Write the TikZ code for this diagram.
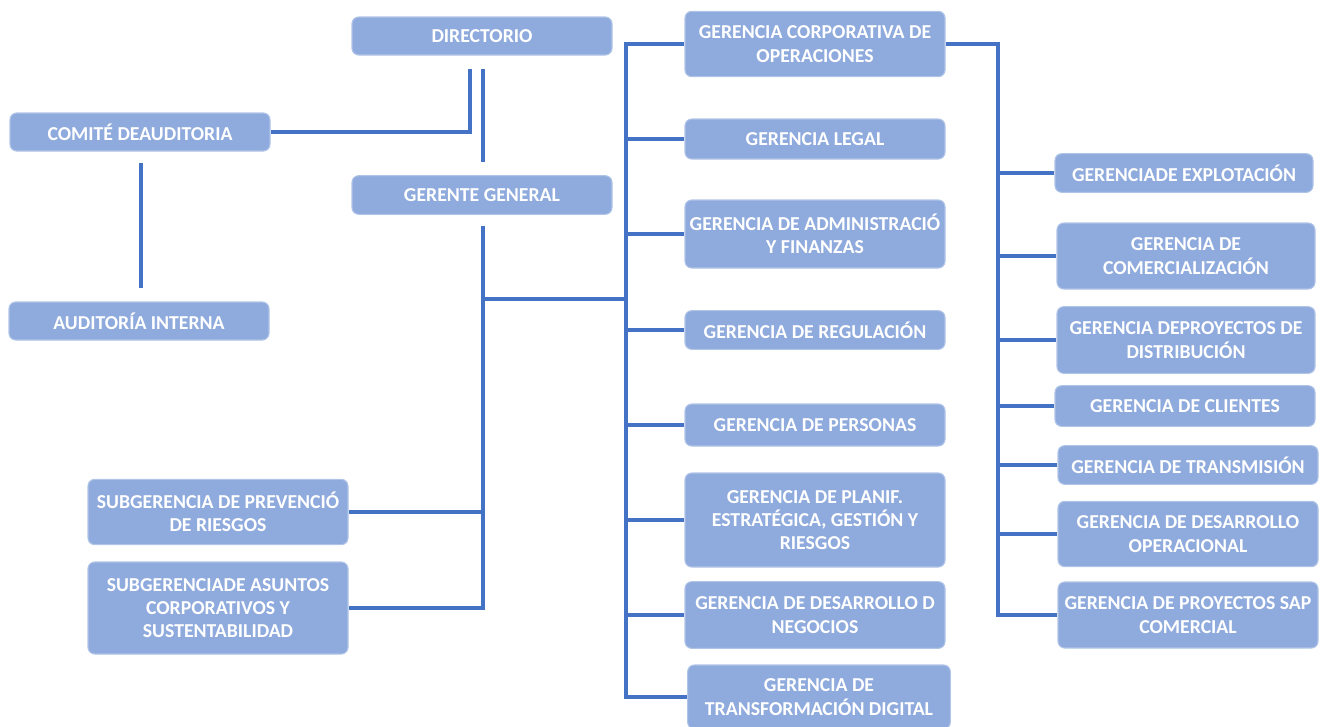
\documentclass[tikz,border=0pt]{standalone}
\usepackage{fontspec}
\setmainfont{Carlito}
\usetikzlibrary{positioning,calc}

\definecolor{boxblue}{RGB}{143,170,220}
\definecolor{boxrim}{RGB}{176,196,232}
\definecolor{linkblue}{RGB}{68,114,196}

\begin{document}
\begin{tikzpicture}[
  x=0.75pt, y=-0.75pt,
  unit/.style={rectangle, draw=boxrim, line width=0.8pt, rounded corners=5pt, fill=boxblue,
               text=white, font=\fontsize{14.8pt}{17.4pt}\selectfont\bfseries,
               align=center, inner sep=2pt, minimum width=195pt},
  link/.style={draw=linkblue, line width=2.3pt}
]
\useasboundingbox (0,0) rectangle (1328,726);

% mando superior
\node[unit, minimum height=28.5pt] (dir) at (482,36) {DIRECTORIO};
\node[unit, minimum height=29pt] (gg) at (482,195) {GERENTE GENERAL};
\node[unit, minimum height=28.5pt] (comite) at (140,132) {COMITÉ DEAUDITORIA};
\node[unit, minimum height=28.5pt] (audit) at (139,321) {AUDITORÍA INTERNA};
\node[unit, minimum height=49pt] (subprev) at (218,512) {SUBGERENCIA DE PREVENCIÓ\\DE RIESGOS};
\node[unit, minimum height=69pt] (subasun) at (218,608) {SUBGERENCIADE ASUNTOS\\CORPORATIVOS Y\\SUSTENTABILIDAD};

% gerencias
\node[unit, minimum height=49pt] (gco) at (815,44) {GERENCIA CORPORATIVA DE\\OPERACIONES};
\node[unit, minimum height=30pt] (legal) at (815,139) {GERENCIA LEGAL};
\node[unit, minimum height=51pt] (adm) at (815,234) {GERENCIA DE ADMINISTRACIÓ\\Y FINANZAS};
\node[unit, minimum height=29pt] (reg) at (815,330) {GERENCIA DE REGULACIÓN};
\node[unit, minimum height=31.5pt] (pers) at (815,425) {GERENCIA DE PERSONAS};
\node[unit, minimum height=70.5pt] (plan) at (815,520) {GERENCIA DE PLANIF.\\ESTRATÉGICA, GESTIÓN Y\\RIESGOS};
\node[unit, minimum height=50pt] (dneg) at (815,615) {GERENCIA DE DESARROLLO D\\NEGOCIOS};
\node[unit, minimum height=48pt, minimum width=197pt] (tdig) at (819,697) {GERENCIA DE\\TRANSFORMACIÓN DIGITAL};

% operaciones
\node[unit, minimum height=29pt, minimum width=193.5pt] (expl) at (1184,173) {GERENCIADE EXPLOTACIÓN};
\node[unit, minimum height=49.5pt, minimum width=193.5pt] (comer) at (1186,256) {GERENCIA DE\\COMERCIALIZACIÓN};
\node[unit, minimum height=50pt, minimum width=193.5pt] (dist) at (1186,340) {GERENCIA DEPROYECTOS DE\\DISTRIBUCIÓN};
\node[unit, minimum height=30.5pt, minimum width=195pt] (cli) at (1185,406) {GERENCIA DE CLIENTES};
\node[unit, minimum height=29pt, minimum width=195pt] (trans) at (1188,465) {GERENCIA DE TRANSMISIÓN};
\node[unit, minimum height=49pt, minimum width=195pt] (dop) at (1188,534) {GERENCIA DE DESARROLLO\\OPERACIONAL};
\node[unit, minimum height=49.5pt, minimum width=195pt] (sap) at (1188,615) {GERENCIA DE PROYECTOS SAP\\COMERCIAL};

% puntos libres
\coordinate (dirA) at ($(dir.south)+(-12,13)$);
\coordinate (dirB) at ($(dir.south)+(1,13)$);
\coordinate (ggA) at ($(gg.north)+(1,-13)$);
\coordinate (ggB) at ($(gg.south)+(1,11)$);
\coordinate (comA) at ($(comite.south)+(1,11)$);
\coordinate (audA) at (comA |- 0,288);
\coordinate (ggJoint) at (483,299);
\coordinate (mbus) at (626,0);
\coordinate (rbus) at (998,0);

\draw[link] (dirA) |- (comite.east);
\draw[link] (dirB) -- (ggA);
\draw[link] (comA) -- (audA);
\draw[link] (ggB) |- (subasun.east);
\draw[link] (subprev.east) -- (subprev.east -| ggB);
\draw[link] (ggJoint) -- (ggJoint -| mbus);

\draw[link] (gco.west) -| (mbus |- tdig.west) -- (tdig.west);
\foreach \g in {legal,adm,reg,pers,plan,dneg}
  \draw[link] (mbus |- \g.west) -- (\g.west);

\draw[link] (gco.east) -| (rbus |- sap.west) -- (sap.west);
\foreach \g in {expl,comer,dist,cli,trans,dop}
  \draw[link] (rbus |- \g.west) -- (\g.west);
\end{tikzpicture}
\end{document}
